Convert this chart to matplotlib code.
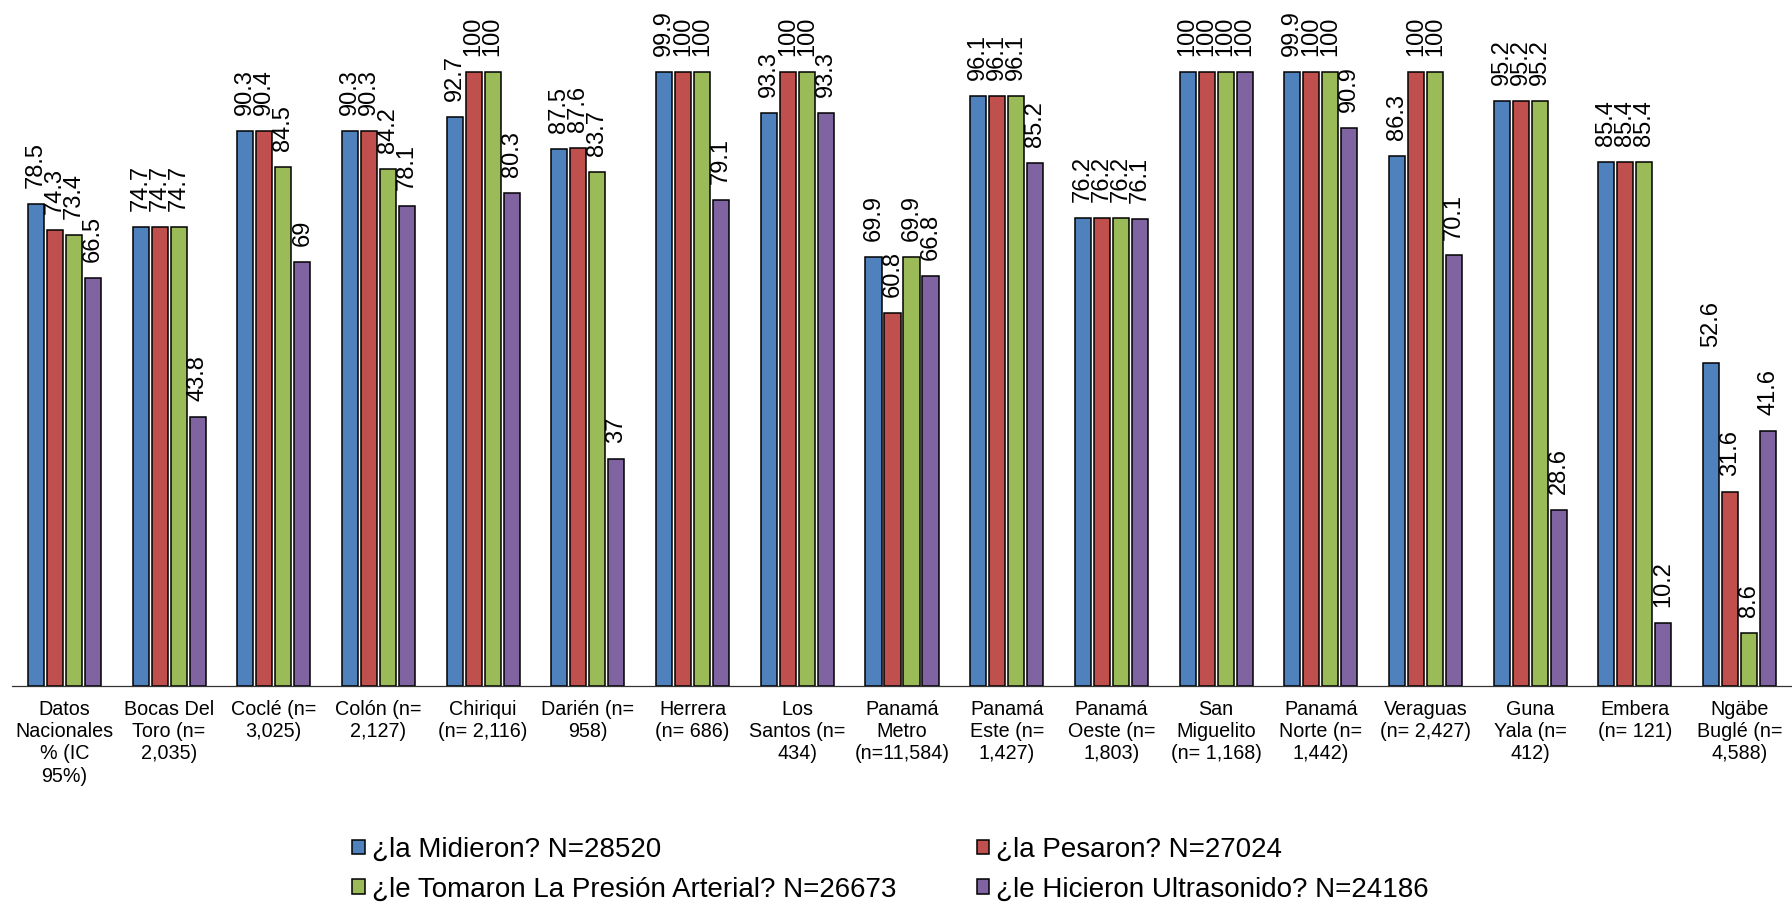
import numpy as np
import matplotlib
matplotlib.use("Agg")
import matplotlib.pyplot as plt

plt.rcParams['font.family'] = ['Liberation Sans', 'DejaVu Sans']

regions = [
    "Datos\nNacionales\n% (IC\n95%)", "Bocas Del\nToro (n=\n2,035)", "Coclé (n=\n3,025)",
    "Colón (n=\n2,127)", "Chiriqui\n(n= 2,116)", "Darién (n=\n958)", "Herrera\n(n= 686)",
    "Los\nSantos (n=\n434)", "Panamá\nMetro\n(n=11,584)", "Panamá\nEste (n=\n1,427)",
    "Panamá\nOeste (n=\n1,803)", "San\nMiguelito\n(n= 1,168)", "Panamá\nNorte (n=\n1,442)",
    "Veraguas\n(n= 2,427)", "Guna\nYala (n=\n412)", "Embera\n(n= 121)", "Ngäbe\nBuglé (n=\n4,588)",
]

midieron = [78.5, 74.7, 90.3, 90.3, 92.7, 87.5, 99.9, 93.3, 69.9, 96.1, 76.2, 100, 99.9, 86.3, 95.2, 85.4, 52.6]
pesaron = [74.3, 74.7, 90.4, 90.3, 100, 87.6, 100, 100, 60.8, 96.1, 76.2, 100, 100, 100, 95.2, 85.4, 31.6]
presion = [73.4, 74.7, 84.5, 84.2, 100, 83.7, 100, 100, 69.9, 96.1, 76.2, 100, 100, 100, 95.2, 85.4, 8.6]
ultrasonido = [66.5, 43.8, 69, 78.1, 80.3, 37, 79.1, 93.3, 66.8, 85.2, 76.1, 100, 90.9, 70.1, 28.6, 10.2, 41.6]

series_names = [
    "¿la Midieron? N=28520",
    "¿la Pesaron? N=27024",
    "¿le Tomaron La Presión Arterial? N=26673",
    "¿le Hicieron Ultrasonido? N=24186",
]
colors = ["#4F81BD", "#C0504D", "#9BBB59", "#8064A2"]

fig = plt.figure(figsize=(17.92, 9.08), dpi=100)
ax = fig.add_axes([12 / 1792, 222 / 908, 1780 / 1792, 686 / 908])

x = np.arange(len(regions))
step = 0.1815
width = 0.153
handles = []
for k, (vals, col, name) in enumerate(zip([midieron, pesaron, presion, ultrasonido], colors, series_names)):
    pos = x + (k - 1.5) * step
    bars = ax.bar(pos, vals, width, color=col, edgecolor="black", linewidth=1.1, label=name)
    handles.append(bars)
    for xp, v in zip(pos, vals):
        ax.annotate(f"{v:g}", (xp, v), xytext=(0, 11.5), textcoords="offset points",
                    rotation=90, ha="center", va="bottom", fontsize=17)

ax.set_xlim(-0.5, len(regions) - 0.5)
ax.set_ylim(0, 111.7)
ax.set_xticks(x)
ax.set_xticklabels(regions, fontsize=14.2, linespacing=1.22)
ax.tick_params(axis="x", length=0, pad=10)
ax.set_yticks([])
for side in ["left", "right", "top"]:
    ax.spines[side].set_visible(False)
ax.spines["bottom"].set_color("#333333")
ax.spines["bottom"].set_linewidth(0.9)

# legend fills column-wise, so reorder to get the pairs side by side
order = [0, 2, 1, 3]
fig.legend(handles=[handles[i] for i in order], labels=[series_names[i] for i in order],
           loc="center", bbox_to_anchor=(0.497, 0.042), ncol=2,
           frameon=False, fontsize=20, handlelength=0.45, handleheight=0.45,
           handletextpad=0.25, columnspacing=2.9, labelspacing=0.5)

fig.savefig("out.png", dpi=100)
